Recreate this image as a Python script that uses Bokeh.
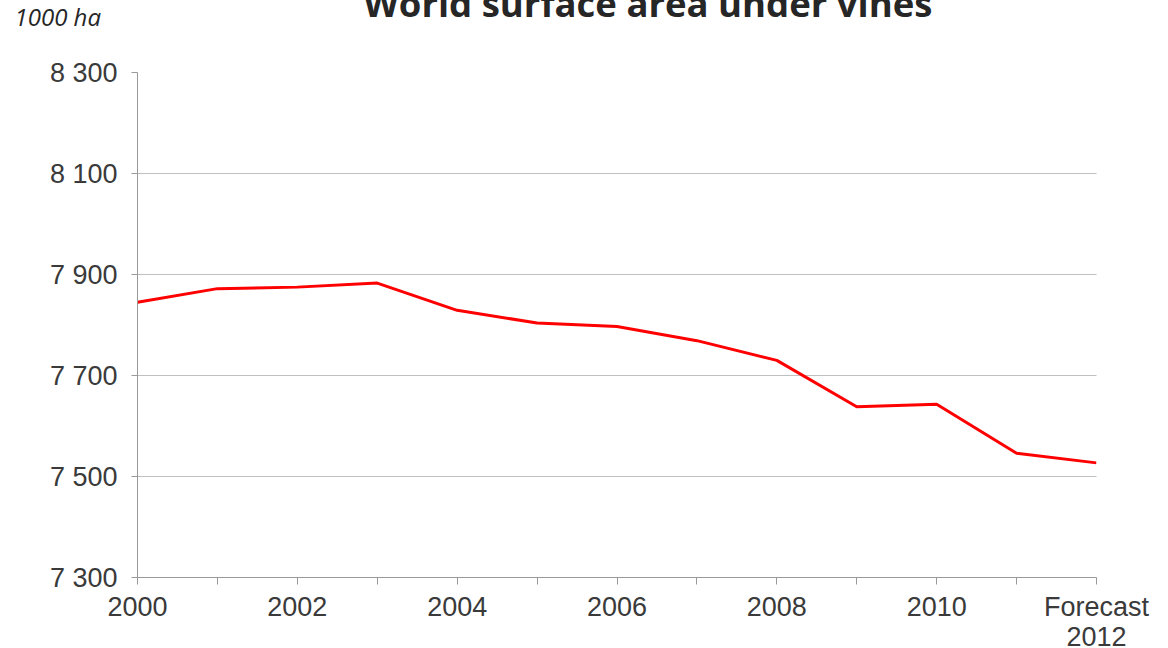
from bokeh.plotting import figure
from bokeh.models import Range1d, FixedTicker, Title
from bokeh.embed import file_html
from bokeh.resources import INLINE

years = [2000, 2001, 2002, 2003, 2004, 2005, 2006, 2007, 2008, 2009, 2010, 2011, 2012]
area = [7845, 7872, 7875, 7883, 7829, 7804, 7797, 7769, 7730, 7638, 7643, 7546, 7527]
y_ticks = [7300, 7500, 7700, 7900, 8100, 8300]
y_tick_labels = ["7 300", "7 500", "7 700", "7 900", "8 100", "8 300"]
x_tick_labels = {2000: "2000", 2001: "", 2002: "2002", 2003: "", 2004: "2004", 2005: "",
                 2006: "2006", 2007: "", 2008: "2008", 2009: "", 2010: "2010", 2011: "",
                 2012: "Forecast\n2012"}
title_text = "World surface area under vines"
unit_text = "1000 ha"

p = figure(frame_width=959, frame_height=505, output_backend="svg", toolbar_location=None,
           x_range=Range1d(2000, 2012), y_range=Range1d(7300, 8300),
           min_border_left=137, min_border_right=64, min_border_top=72, min_border_bottom=60)
p.outline_line_color = None
p.background_fill_color = "white"

p.line(years, area, line_color="#FF0000", line_width=3)

# axes
axis_color = "#999999"
label_color = "#3a3a3a"
p.xaxis.ticker = FixedTicker(ticks=years)
p.xaxis.major_label_overrides = x_tick_labels
p.yaxis.ticker = FixedTicker(ticks=y_ticks)
p.yaxis.major_label_overrides = dict(zip(y_ticks, y_tick_labels))
for ax in (p.xaxis, p.yaxis):
    ax.axis_line_color = axis_color
    ax.major_tick_line_color = axis_color
    ax.minor_tick_line_color = None
    ax.major_tick_in = 0
    ax.major_label_text_font = "Liberation Sans"
    ax.major_label_text_font_size = "27px"
    ax.major_label_text_color = label_color
    ax.major_label_text_line_height = 1.0
p.xaxis.major_tick_out = 7
p.yaxis.major_tick_out = 6
p.xaxis.major_label_standoff = 7
p.yaxis.major_label_standoff = 14

p.xgrid.grid_line_color = None
p.ygrid.grid_line_color = "#808080"
p.ygrid.grid_line_dash = "1 1"
p.ygrid.grid_line_width = 1

# titles stacked above the frame (first added = nearest the frame)
spacer = Title(text=" ", text_font_size="10px", standoff=31)
unit_title = Title(text=unit_text, align="left", vertical_align="bottom", offset=-123,
                   standoff=-9, text_font="Open Sans", text_font_style="italic",
                   text_font_size="24px", text_color="#262626")
main_title = Title(text=title_text, align="left", vertical_align="bottom", offset=226,
                   standoff=-50, text_font="Open Sans", text_font_style="bold",
                   text_font_size="36.5px", text_color="#262626")
p.add_layout(spacer, "above")
p.add_layout(unit_title, "above")
p.add_layout(main_title, "above")

open("out.html", "w").write(file_html(p, INLINE))
